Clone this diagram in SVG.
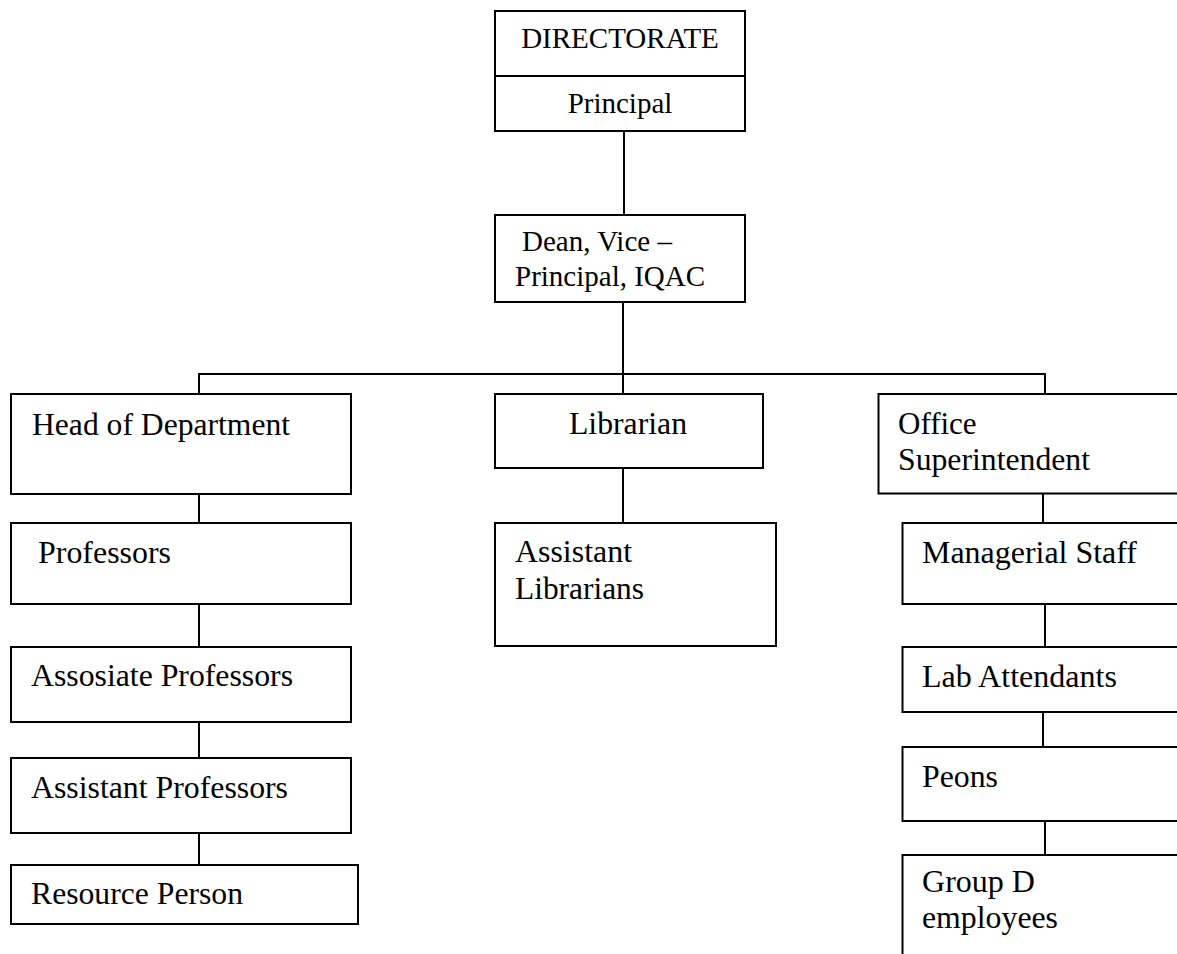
<svg xmlns="http://www.w3.org/2000/svg" width="1177" height="954" viewBox="0 0 1177 954">
<style>
  .box { fill: #ffffff; stroke: #000000; stroke-width: 2; }
  .conn line { stroke: #000000; stroke-width: 2; }
  text { font-family: "Liberation Serif", "Times New Roman", serif; fill: #000000; }
  .t29 { font-size: 29px; }
  .t31 { font-size: 31px; }
  .mid { text-anchor: middle; }
</style>
<rect x="0" y="0" width="1177" height="954" fill="#ffffff"/>
<g id="connectors" class="conn">
  <line x1="624" y1="131" x2="624" y2="215"/>
  <line x1="623" y1="302" x2="623" y2="394"/>
  <line x1="198" y1="374" x2="1046" y2="374"/>
  <line x1="199" y1="373" x2="199" y2="394"/>
  <line x1="1045" y1="373" x2="1045" y2="394"/>
  <line x1="199" y1="494" x2="199" y2="523"/>
  <line x1="199" y1="604" x2="199" y2="647"/>
  <line x1="199" y1="722" x2="199" y2="758"/>
  <line x1="199" y1="833" x2="199" y2="865"/>
  <line x1="623" y1="468" x2="623" y2="523"/>
  <line x1="1043" y1="494" x2="1043" y2="523"/>
  <line x1="1045" y1="604" x2="1045" y2="647"/>
  <line x1="1043" y1="712" x2="1043" y2="747"/>
  <line x1="1045" y1="821" x2="1045" y2="855"/>
</g>
<g id="directorate">
  <rect class="box" x="495" y="11" width="250" height="120"/>
  <line x1="495" y1="76" x2="745" y2="76" stroke="#000" stroke-width="2"/>
  <text class="t29 mid" x="620" y="48">DIRECTORATE</text>
  <text class="t29 mid" x="620" y="113">Principal</text>
</g>
<g id="dean">
  <rect class="box" x="495" y="215" width="250" height="87"/>
  <text class="t29" x="522" y="251">Dean, Vice –</text>
  <text class="t29" x="515" y="286">Principal, IQAC</text>
</g>
<g id="hod">
  <rect class="box" x="11" y="394" width="340" height="100"/>
  <text class="t31" x="32" y="435" textLength="258" lengthAdjust="spacingAndGlyphs">Head of Department</text>
</g>
<g id="professors">
  <rect class="box" x="11" y="523" width="340" height="81"/>
  <text class="t31" x="38" y="563" textLength="133" lengthAdjust="spacingAndGlyphs">Professors</text>
</g>
<g id="associate">
  <rect class="box" x="11" y="647" width="340" height="75"/>
  <text class="t31" x="31" y="686" textLength="262" lengthAdjust="spacingAndGlyphs">Assosiate Professors</text>
</g>
<g id="assistant-professors">
  <rect class="box" x="11" y="758" width="340" height="75"/>
  <text class="t31" x="31" y="798" textLength="257" lengthAdjust="spacingAndGlyphs">Assistant Professors</text>
</g>
<g id="resource">
  <rect class="box" x="11" y="865" width="347" height="59"/>
  <text class="t31" x="31" y="904" textLength="212" lengthAdjust="spacingAndGlyphs">Resource Person</text>
</g>
<g id="librarian">
  <rect class="box" x="495" y="394" width="268" height="74"/>
  <text class="t31 mid" x="628" y="434" textLength="118" lengthAdjust="spacingAndGlyphs">Librarian</text>
</g>
<g id="assistant-librarians">
  <rect class="box" x="495" y="523" width="281" height="123"/>
  <text class="t31" x="515" y="562" textLength="117" lengthAdjust="spacingAndGlyphs">Assistant</text>
  <text class="t31" x="515" y="599" textLength="129" lengthAdjust="spacingAndGlyphs">Librarians</text>
</g>
<g id="office">
  <rect class="box" x="878.5" y="394" width="320" height="99.5"/>
  <text class="t31" x="898" y="434">Office</text>
  <text class="t31" x="898" y="470" textLength="192" lengthAdjust="spacingAndGlyphs">Superintendent</text>
</g>
<g id="managerial">
  <rect class="box" x="902.5" y="523" width="300" height="81"/>
  <text class="t31" x="922" y="563" textLength="215" lengthAdjust="spacingAndGlyphs">Managerial Staff</text>
</g>
<g id="lab">
  <rect class="box" x="902.5" y="647" width="300" height="65"/>
  <text class="t31" x="922" y="687" textLength="195" lengthAdjust="spacingAndGlyphs">Lab Attendants</text>
</g>
<g id="peons">
  <rect class="box" x="902.5" y="747" width="300" height="74"/>
  <text class="t31" x="922" y="787" textLength="76" lengthAdjust="spacingAndGlyphs">Peons</text>
</g>
<g id="groupd">
  <rect class="box" x="902.5" y="855" width="300" height="120"/>
  <text class="t31" x="922" y="892" textLength="113" lengthAdjust="spacingAndGlyphs">Group D</text>
  <text class="t31" x="922" y="928" textLength="136" lengthAdjust="spacingAndGlyphs">employees</text>
</g>
</svg>
